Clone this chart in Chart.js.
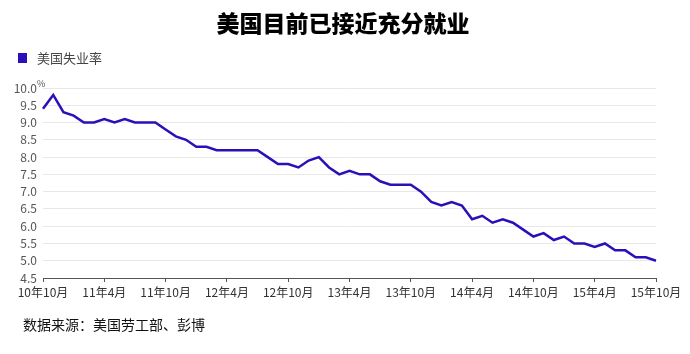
<!DOCTYPE html>
<html>
<head>
<meta charset="utf-8">
<script src="https://cdn.jsdelivr.net/npm/chart.js@4"></script>
<style>
  html, body { margin: 0; padding: 0; background: #fff; }
  #wrap { width: 690px; height: 354px; }
</style>
</head>
<body>
<div id="wrap"><canvas id="unempChart" width="690" height="354"></canvas></div>
<script>
// US unemployment rate, monthly, 2010-10 .. 2015-10
const months = [
  '10年10月','10年11月','10年12月',
  '11年1月','11年2月','11年3月','11年4月','11年5月','11年6月','11年7月','11年8月','11年9月','11年10月','11年11月','11年12月',
  '12年1月','12年2月','12年3月','12年4月','12年5月','12年6月','12年7月','12年8月','12年9月','12年10月','12年11月','12年12月',
  '13年1月','13年2月','13年3月','13年4月','13年5月','13年6月','13年7月','13年8月','13年9月','13年10月','13年11月','13年12月',
  '14年1月','14年2月','14年3月','14年4月','14年5月','14年6月','14年7月','14年8月','14年9月','14年10月','14年11月','14年12月',
  '15年1月','15年2月','15年3月','15年4月','15年5月','15年6月','15年7月','15年8月','15年9月','15年10月'
];
const unemployment = [
  9.4, 9.8, 9.3, 9.2, 9.0, 9.0, 9.1, 9.0, 9.1, 9.0, 9.0, 9.0,
  8.8, 8.6, 8.5, 8.3, 8.3, 8.2, 8.2, 8.2, 8.2, 8.2, 8.0, 7.8,
  7.8, 7.7, 7.9, 8.0, 7.7, 7.5, 7.6, 7.5, 7.5, 7.3, 7.2, 7.2,
  7.2, 7.0, 6.7, 6.6, 6.7, 6.6, 6.2, 6.3, 6.1, 6.2, 6.1, 5.9,
  5.7, 5.8, 5.6, 5.7, 5.5, 5.5, 5.4, 5.5, 5.3, 5.3, 5.1, 5.1, 5.0
];
const tickLabels = ['10年10月','11年4月','11年10月','12年4月','12年10月','13年4月','13年10月','14年4月','14年10月','15年4月','15年10月'];
const seriesName = '美国失业率';
const titleText = '美国目前已接近充分就业';
const sourceText = '数据来源：美国劳工部、彭博';

const FONT = '"Noto Sans CJK SC", "Noto Sans", sans-serif';
const LINE_COLOR = '#2a10b8';

// title, legend, source note and the "%" on the top tick
const decorations = {
  id: 'decorations',
  afterDraw(chart) {
    const ctx = chart.ctx;
    const ds = chart.data.datasets[0];
    ctx.save();
    ctx.textBaseline = 'middle';

    ctx.fillStyle = '#000';
    ctx.font = '900 23px ' + FONT;
    ctx.textAlign = 'center';
    ctx.fillText(titleText, 343, 23);

    ctx.fillStyle = ds.borderColor;
    ctx.fillRect(18, 53, 9, 10);
    ctx.fillStyle = '#444';
    ctx.font = '13px ' + FONT;
    ctx.textAlign = 'left';
    ctx.fillText(ds.label, 37, 58);

    ctx.fillStyle = '#111';
    ctx.font = '14px ' + FONT;
    ctx.fillText(sourceText, 23, 325);

    const y = chart.scales.y;
    ctx.fillStyle = '#555';
    ctx.font = '9px ' + FONT;
    ctx.fillText('%', 37, y.getPixelForValue(10) - 4);
    ctx.restore();
  }
};

new Chart(document.getElementById('unempChart').getContext('2d'), {
  type: 'line',
  data: {
    labels: months,
    datasets: [{
      label: seriesName,
      data: unemployment,
      borderColor: LINE_COLOR,
      backgroundColor: LINE_COLOR,
      borderWidth: 2.5,
      pointRadius: 0,
      tension: 0,
      fill: false
    }]
  },
  options: {
    responsive: false,
    animation: false,
    layout: { padding: { left: 0, right: 34, top: 88, bottom: 46 } },
    plugins: {
      legend: { display: false },
      title: { display: false },
      tooltip: { enabled: false }
    },
    scales: {
      x: {
        offset: false,
        afterFit: (s) => { s.height = 30; },
        border: { display: true, color: '#555', width: 1 },
        grid: { display: true, drawOnChartArea: false, drawTicks: true, tickLength: 4, color: '#555' },
        ticks: {
          autoSkip: false,
          maxRotation: 0,
          padding: 3,
          color: '#333',
          font: { family: FONT, size: 12 },
          callback: function (val) {
            const lab = this.getLabelForValue(val);
            return tickLabels.includes(lab) ? lab : null;
          }
        }
      },
      y: {
        min: 4.5,
        max: 10,
        afterFit: (s) => { s.width = 43; },
        border: { display: false },
        grid: { color: '#e8e8e8', drawTicks: false },
        ticks: {
          stepSize: 0.5,
          autoSkip: false,
          padding: 6,
          color: '#555',
          font: { family: FONT, size: 12 },
          callback: (v) => Number(v).toFixed(1)
        }
      }
    }
  },
  plugins: [decorations]
});
</script>
</body>
</html>
